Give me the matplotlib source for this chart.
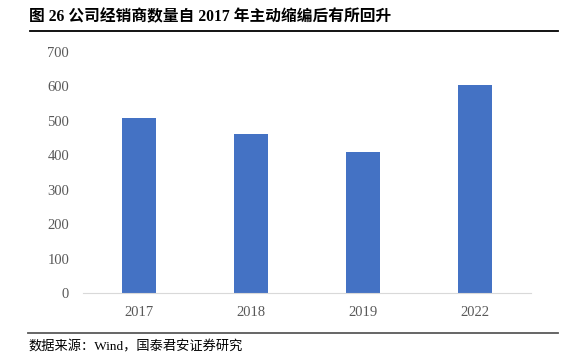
import matplotlib.pyplot as plt
from matplotlib.lines import Line2D

# Data
years = ['2017', '2018', '2019', '2022']
dealers = [508, 461, 410, 604]
yticks = [0, 100, 200, 300, 400, 500, 600, 700]

fonts = ['Liberation Serif', 'Noto Sans CJK SC']
plt.rcParams['font.family'] = fonts

fig = plt.figure(figsize=(5.68, 3.61), dpi=100)
ax = fig.add_axes([83 / 568, 1 - 293 / 361, 448 / 568, (293 - 52) / 361])

ax.bar(range(len(years)), dealers, width=0.31, color='#4472C4')
ax.set_xlim(-0.5, 3.5)
ax.set_ylim(0, 700)
ax.set_yticks(yticks)
ax.set_xticks(range(len(years)))
ax.set_xticklabels(years)
for s in ['top', 'right', 'left']:
    ax.spines[s].set_visible(False)
ax.spines['bottom'].set_color('#d9d9d9')
ax.tick_params(axis='both', length=0, labelsize=10.5, colors='#595959')
ax.tick_params(axis='y', pad=10)
ax.tick_params(axis='x', pad=9)

# Title and source
fig.text(29 / 568, 1 - 17 / 361, '图 26 公司经销商数量自 2017 年主动缩编后有所回升',
         fontsize=11.3, fontweight='bold', va='center', ha='left', color='black')
fig.add_artist(Line2D([30 / 568, 558 / 568], [1 - 31 / 361, 1 - 31 / 361],
                      color='black', lw=1.3, transform=fig.transFigure))
fig.add_artist(Line2D([28 / 568, 558 / 568], [1 - 333 / 361, 1 - 333 / 361],
                      color='#595959', lw=1.3, transform=fig.transFigure))
fig.text(28 / 568, 1 - 347 / 361, '数据来源：Wind，国泰君安证券研究',
         fontsize=9.5, va='center', ha='left', color='black')

fig.savefig('out.png', dpi=100)
